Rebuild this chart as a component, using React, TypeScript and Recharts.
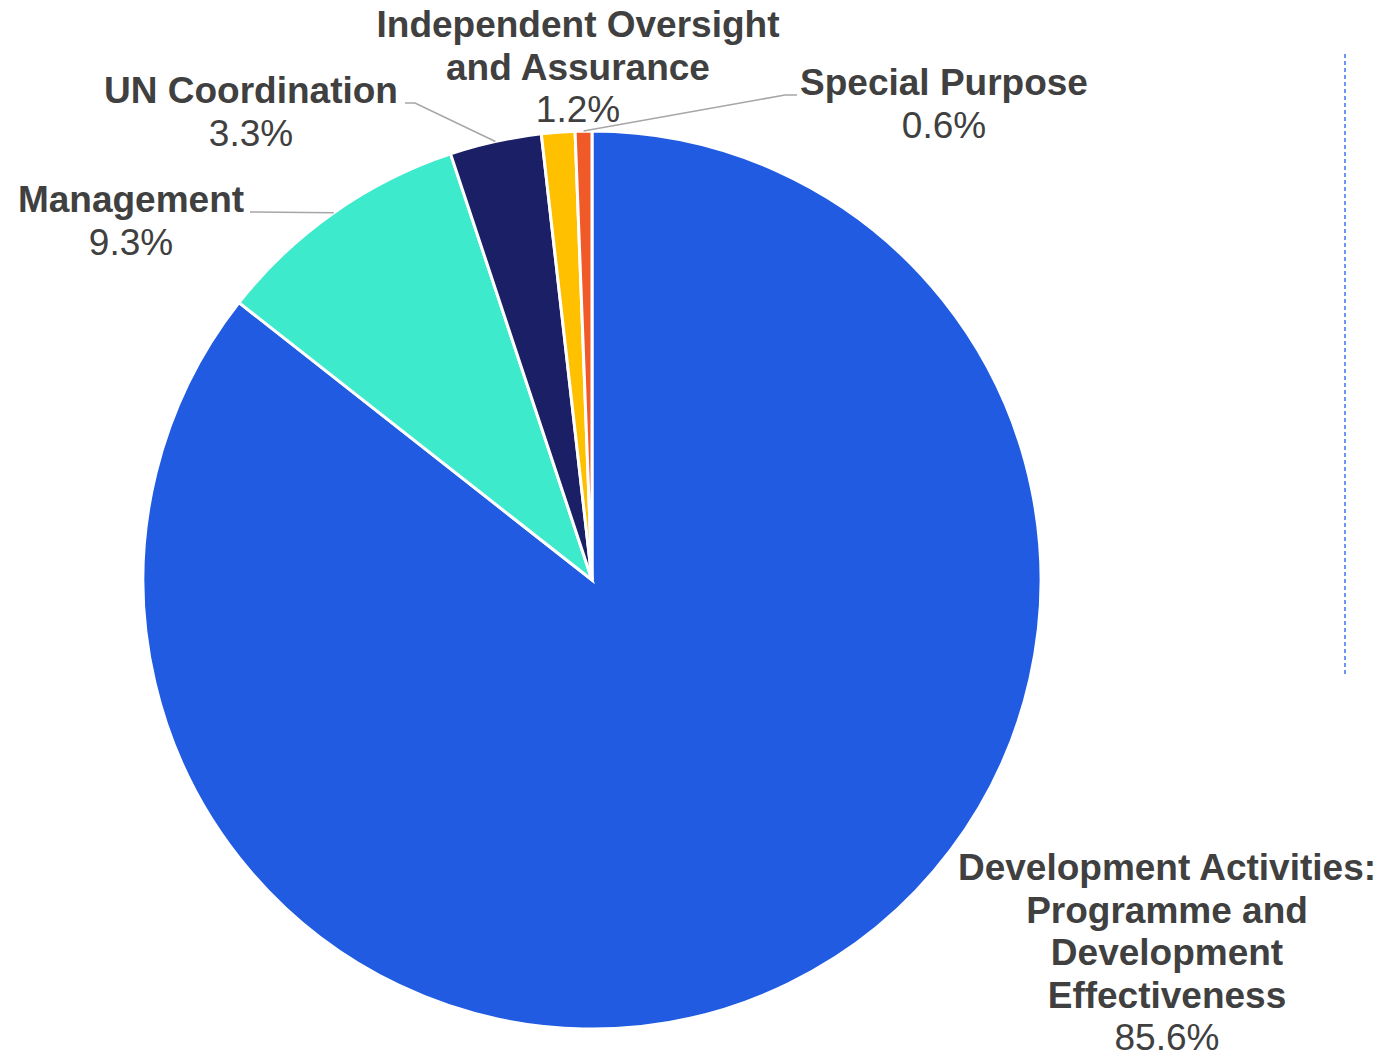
import React from 'react';
import { PieChart, Pie, Cell } from 'recharts';

// slice names and shares (%)
const names = [
  'Development Activities: Programme and Development Effectiveness',
  'Management',
  'UN Coordination',
  'Independent Oversight and Assurance',
  'Special Purpose',
];
const shares = [85.6, 9.3, 3.3, 1.2, 0.6];
const colors = ['#205BE2', '#3DEACB', '#1B1F66', '#FFC000', '#F05A28'];

// how each name breaks into lines
const nameLines = [
  ['Development Activities:', 'Programme and', 'Development', 'Effectiveness'],
  ['Management'],
  ['UN Coordination'],
  ['Independent Oversight', 'and Assurance'],
  ['Special Purpose'],
];

// label placement (text centre x, first baseline y) and leader knee points
const labelPos = [
  { x: 1167, y: 880, knee: null as number[][] | null },
  { x: 131, y: 212, knee: [[250, 212]] },
  { x: 251, y: 103, knee: [[415, 103], [405, 103]] },
  { x: 578, y: 37, knee: null },
  { x: 944, y: 95, knee: [[785, 95], [797, 95]] },
];

const data = names.map((name, i) => ({ name, value: shares[i] }));

const RAD = Math.PI / 180;
const LINE_H = 42.5;
const FONT = '"Liberation Sans", Arial, sans-serif';

const renderLabel = (props: any) => {
  const { cx, cy, midAngle, outerRadius, index, value } = props;
  const pos = labelPos[index];
  const lines = nameLines[index];
  const ex = cx + outerRadius * Math.cos(-midAngle * RAD);
  const ey = cy + outerRadius * Math.sin(-midAngle * RAD);
  let path = '';
  if (pos.knee) {
    path = `M${ex},${ey}` + pos.knee.map((p) => ` L${p[0]},${p[1]}`).join('');
  }
  return (
    <g>
      {path && <path d={path} stroke="#A6A6A6" strokeWidth={1.5} fill="none" />}
      <text x={pos.x} textAnchor="middle" fill="#404040" fontFamily={FONT} fontSize={37}>
        {lines.map((l, i) => (
          <tspan key={i} x={pos.x} y={pos.y + i * LINE_H} fontWeight="bold">
            {l}
          </tspan>
        ))}
        <tspan x={pos.x} y={pos.y + lines.length * LINE_H}>
          {value.toFixed(1)}%
        </tspan>
      </text>
    </g>
  );
};

export default function App() {
  return (
    <div style={{ position: 'absolute', left: 0, top: 0, width: 1381, height: 1055, background: '#fff' }}>
      <PieChart width={1381} height={1055} margin={{ top: 0, right: 0, bottom: 0, left: 0 }}>
        <Pie
          data={data}
          dataKey="value"
          nameKey="name"
          cx={592}
          cy={580}
          outerRadius={449}
          startAngle={90}
          endAngle={-270}
          stroke="#fff"
          strokeWidth={3}
          label={renderLabel}
          labelLine={false}
          isAnimationActive={false}
        >
          {data.map((d, i) => (
            <Cell key={d.name} fill={colors[i]} />
          ))}
        </Pie>
      </PieChart>
      <svg width={1381} height={1055} style={{ position: 'absolute', left: 0, top: 0, pointerEvents: 'none' }}>
        <line x1={1345} y1={54} x2={1345} y2={676} stroke="#3D74F0" strokeWidth={1.5} strokeDasharray="4 3" />
      </svg>
    </div>
  );
}
